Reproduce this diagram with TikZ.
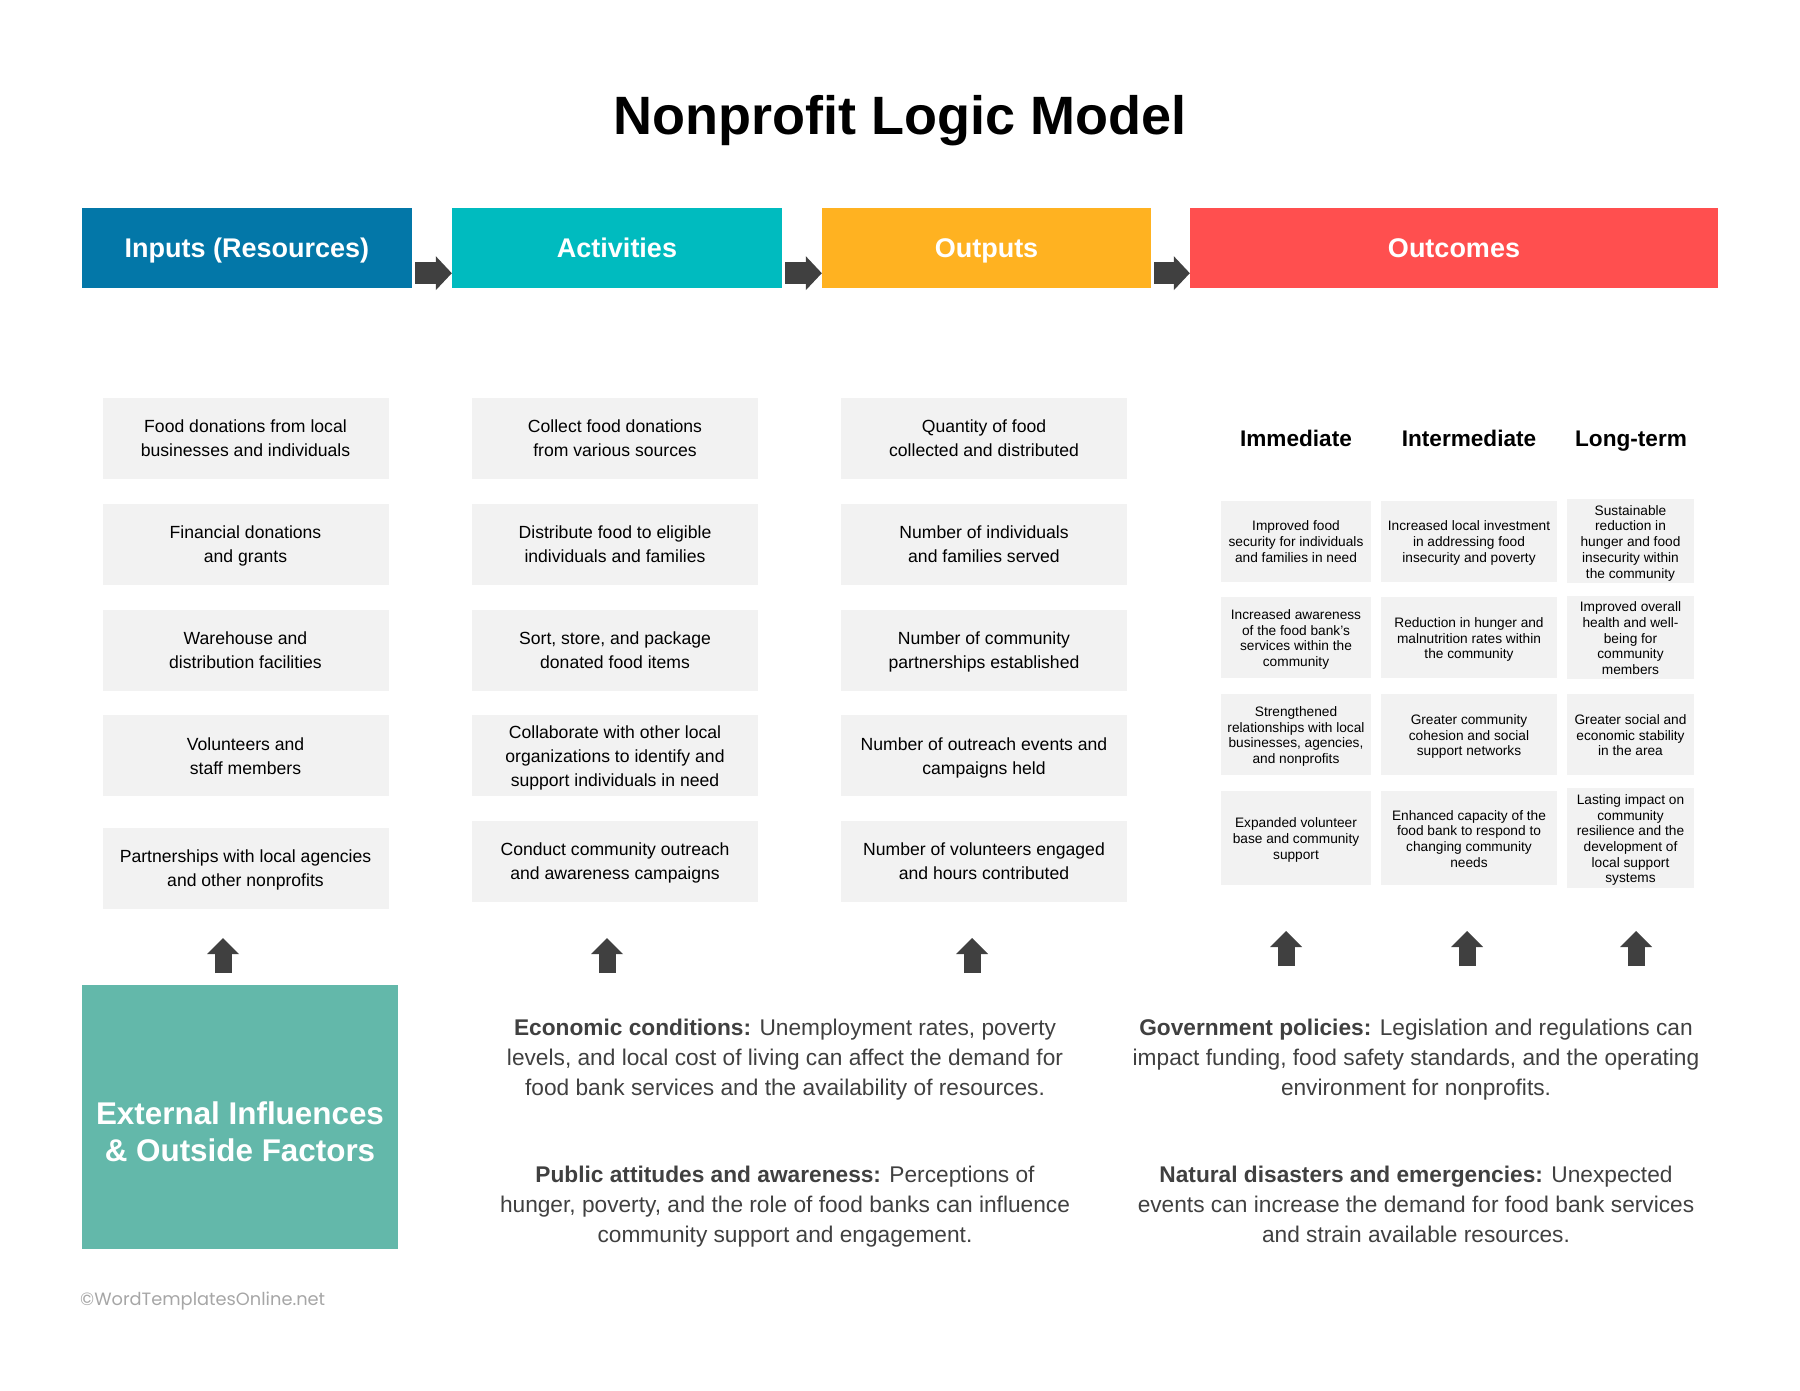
\documentclass[tikz,border=0pt]{standalone}
\usepackage{fontspec}
\setmainfont{Liberation Sans}
\newfontfamily\copyfont{Poppins}
\usetikzlibrary{arrows.meta}

\definecolor{inblue}{HTML}{0377A8}
\definecolor{actcyan}{HTML}{00BBBF}
\definecolor{outyellow}{HTML}{FFB221}
\definecolor{outcred}{HTML}{FF4F4F}
\definecolor{cellgray}{HTML}{F2F2F2}
\definecolor{arrowgray}{HTML}{404040}
\definecolor{extteal}{HTML}{63B8AA}
\definecolor{notegray}{HTML}{404040}
\definecolor{copygray}{HTML}{A6A6A6}

\begin{document}
\begin{tikzpicture}[x=1pt,y=-1pt]
\tikzstyle{head} = [minimum height=80pt, inner sep=0pt, text height=20pt, text depth=1pt, text=white, font=\fontsize{27}{30}\selectfont\bfseries]
\tikzstyle{cell} = [fill=cellgray, text width=286pt, minimum height=81pt, inner sep=0pt, align=flush center, font=\fontsize{17.6}{24}\selectfont, execute at begin node={\rule{0pt}{21pt}}, execute at end node=\strut]
\tikzstyle{small} = [fill=cellgray, minimum height=81pt, inner sep=0pt, align=flush center, font=\fontsize{13.7}{15.7}\selectfont, execute at begin node={\rule{0pt}{16pt}}, execute at end node=\strut]
\tikzstyle{sub} = [text height=17pt, text depth=1pt, font=\fontsize{22.6}{26}\selectfont\bfseries]
\tikzstyle{note} = [text width=640pt, align=flush center, text=notegray, font=\fontsize{22.7}{30}\selectfont, execute at begin node={\rule{0pt}{28pt}}, execute at end node=\strut]
\tikzstyle{rarrow} = [draw=arrowgray, line width=22pt, -{Triangle[width=34pt,length=16pt,line width=0pt]}]
\tikzstyle{uarrow} = [draw=arrowgray, line width=17pt, -{Triangle[width=32pt,length=16pt,line width=0pt]}]

\useasboundingbox (0,0) rectangle (1800,1391);

\node [text height=40pt, text depth=0pt, font=\fontsize{54}{60}\selectfont\bfseries] (title) at (900,115) {Nonprofit Logic Model};

% header row
\node [head, fill=inblue, minimum width=330pt] (inp) at (247,248) {Inputs (Resources)};
\node [head, fill=actcyan, minimum width=330pt] (act) at (617,248) {Activities};
\node [head, fill=outyellow, minimum width=329pt] (outp) at (986.5,248) {Outputs};
\node [head, fill=outcred, minimum width=528pt] (outc) at (1454,248) {Outcomes};

\draw [rarrow] ([shift={(3pt,15pt)}]inp.south east) -- ([yshift=15pt]act.south west);
\draw [rarrow] ([shift={(3pt,15pt)}]act.south east) -- ([yshift=15pt]outp.south west);
\draw [rarrow] ([shift={(3pt,15pt)}]outp.south east) -- ([yshift=15pt]outc.south west);

% inputs
\node [cell] (i1) at (245.5,438) {Food donations from local\\businesses and individuals};
\node [cell] (i2) at (245.5,544) {Financial donations\\and grants};
\node [cell] (i3) at (245.5,650) {Warehouse and\\distribution facilities};
\node [cell] (i4) at (245.5,755.5) {Volunteers and\\staff members};
\node [cell] (i5) at (245.5,868) {Partnerships with local agencies\\and other nonprofits};

% activities
\node [cell] (a1) at (615,438) {Collect food donations\\from various sources};
\node [cell] (a2) at (615,544) {Distribute food to eligible\\individuals and families};
\node [cell] (a3) at (615,650) {Sort, store, and package\\donated food items};
\node [cell] (a4) at (615,755.5) {Collaborate with other local\\organizations to identify and\\support individuals in need};
\node [cell] (a5) at (615,861) {Conduct community outreach\\and awareness campaigns};

% outputs
\node [cell] (o1) at (984,438) {Quantity of food\\collected and distributed};
\node [cell] (o2) at (984,544) {Number of individuals\\and families served};
\node [cell] (o3) at (984,650) {Number of community\\partnerships established};
\node [cell] (o4) at (984,755.5) {Number of outreach events and\\campaigns held};
\node [cell] (o5) at (984,861) {Number of volunteers engaged\\and hours contributed};

% outcomes
\node [sub] (imm) at (1296,438) {Immediate};
\node [sub] (inter) at (1469,438) {Intermediate};
\node [sub] (long) at (1631,438) {Long-term};

\node [small, text width=150pt] (m1) at (1296,541) {Improved food\\security for individuals\\and families in need};
\node [small, text width=150pt] (m2) at (1296,637.5) {Increased awareness\\of the food bank's\\services within the\\community};
\node [small, text width=150pt] (m3) at (1296,734.5) {Strengthened\\relationships with local\\businesses, agencies,\\and nonprofits};
\node [small, text width=150pt, minimum height=94pt] (m4) at (1296,838) {Expanded volunteer\\base and community\\support};

\node [small, text width=176pt] (n1) at (1469,541) {Increased local investment\\in addressing food\\insecurity and poverty};
\node [small, text width=176pt] (n2) at (1469,637.5) {Reduction in hunger and\\malnutrition rates within\\the community};
\node [small, text width=176pt] (n3) at (1469,734.5) {Greater community\\cohesion and social\\support networks};
\node [small, text width=176pt, minimum height=94pt] (n4) at (1469,838) {Enhanced capacity of the\\food bank to respond to\\changing community\\needs};

\node [small, text width=127pt] (l1) at (1630.5,541) {Sustainable\\reduction in\\hunger and food\\insecurity within\\the community};
\node [small, text width=127pt] (l2) at (1630.5,637.5) {Improved overall\\health and well-\\being for\\community\\members};
\node [small, text width=127pt] (l3) at (1630.5,734.5) {Greater social and\\economic stability\\in the area};
\node [small, text width=127pt, minimum height=94pt] (l4) at (1630.5,838) {Lasting impact on\\community\\resilience and the\\development of\\local support\\systems};

% up arrows
\coordinate (u1s) at (223,973);  \coordinate (u1e) at (223,938);
\coordinate (u2s) at (607,973);  \coordinate (u2e) at (607,938);
\coordinate (u3s) at (972,973);  \coordinate (u3e) at (972,938);
\coordinate (u4s) at (1286,966); \coordinate (u4e) at (1286,931);
\coordinate (u5s) at (1467,966); \coordinate (u5e) at (1467,931);
\coordinate (u6s) at (1636,966); \coordinate (u6e) at (1636,931);
\draw [uarrow] (u1s) -- (u1e);
\draw [uarrow] (u2s) -- (u2e);
\draw [uarrow] (u3s) -- (u3e);
\draw [uarrow] (u4s) -- (u4e);
\draw [uarrow] (u5s) -- (u5e);
\draw [uarrow] (u6s) -- (u6e);

% external factors
\node [fill=extteal, minimum width=316pt, minimum height=264pt, inner sep=0pt] (ext) at (240,1117) {};
\node [align=center, text=white, font=\fontsize{31.4}{37}\selectfont\bfseries] (extlbl) at (240,1132) {External Influences\\\& Outside Factors};

\node [note] (econ) at (785,1056) {\textbf{Economic conditions:} Unemployment rates, poverty\\levels, and local cost of living can affect the demand for\\food bank services and the availability of resources.};
\node [note] (pub) at (785,1203) {\textbf{Public attitudes and awareness:} Perceptions of\\hunger, poverty, and the role of food banks can influence\\community support and engagement.};
\node [note] (gov) at (1416,1056) {\textbf{Government policies:} Legislation and regulations can\\impact funding, food safety standards, and the operating\\environment for nonprofits.};
\node [note] (nat) at (1416,1203) {\textbf{Natural disasters and emergencies:} Unexpected\\events can increase the demand for food bank services\\and strain available resources.};

\node [anchor=west, inner sep=0pt, text=copygray, font=\copyfont\fontsize{17.8}{20}\selectfont] (copy) at (80,1301) {©WordTemplatesOnline.net};

\end{tikzpicture}
\end{document}
